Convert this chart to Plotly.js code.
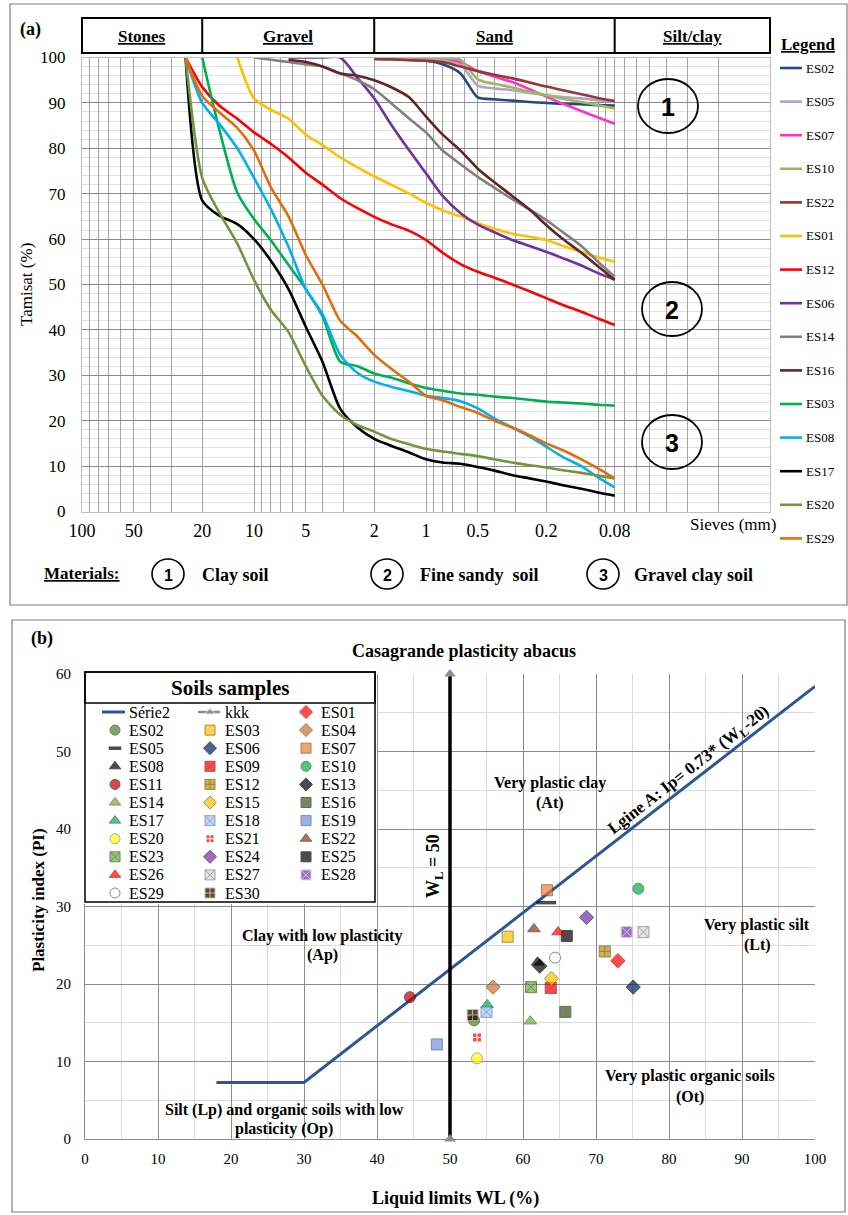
<!DOCTYPE html>
<html>
<head>
<meta charset="utf-8">
<script src="https://cdn.plot.ly/plotly-3.0.1.min.js"></script>
<style>html,body{margin:0;padding:0;background:#fff;}#chart{width:848px;height:1215px;}</style>
</head>
<body>
<div id="chart"></div>
<script>
// ================= Panel (a): grain size distribution =================
const _ = null;
const sieveSizes = [25,20,16,12.5,10,8,6.3,5,4,3.15,2.5,2,1.6,1.25,1,0.8,0.63,0.5,0.4,0.315,0.25,0.2,0.16,0.125,0.1,0.08];
const ES02 = [_,_,_,_,_,_,_,_,_,_,_,99.7,99.6,99.5,99.3,98.5,96.5,91.2,90.8,90.5,90.2,90.0,89.8,89.7,89.5,89.4];
const ES05 = [_,_,_,_,_,_,_,_,_,_,_,99.8,99.7,99.6,99.5,99.2,98.5,93.8,93.2,92.8,92.2,91.7,91.3,91.0,90.6,90.3];
const ES07 = [_,_,_,_,_,_,_,_,_,_,_,100,100,100,100,99.8,99.0,97.0,95.8,94.6,93.0,91.4,89.8,88.2,86.8,85.4];
const ES10 = [_,_,_,_,_,_,_,_,_,_,_,100,100,100,100,99.8,99.5,95.2,94.2,93.4,92.5,91.7,90.9,90.2,89.5,88.8];
const ES22 = [_,_,_,_,_,_,_,_,_,_,_,99.7,99.6,99.4,99.3,99.0,98.0,97.0,96.2,95.4,94.5,93.6,92.8,91.9,91.1,90.4];
const ES01 = [_,_,_,100,91,88.5,86.5,83,80.7,78,75.8,73.8,72,70,68,66.3,65,63.5,62.3,61.2,60.5,59.8,58.5,57.2,56,55];
const ES12 = [100,93.5,89.5,86.5,83.5,81,78,74.6,72,69,66.8,64.9,63.3,61.8,59.8,57,54.5,52.8,51.5,50,48.5,47,45.5,44,42.5,41.1];
const ES06 = [_,_,_,_,_,_,100,100,100,100,95.5,91,85.3,79.5,74.5,69.5,65.7,63.2,61.5,59.8,58.5,57.2,55.8,54.2,52.5,51.1];
const ES14 = [_,_,_,_,100,99.5,99,98.5,98,96.5,95,93,90,86.5,83.5,79.5,76.5,73.7,71.3,68.8,66.5,64.2,61.5,58.5,55,51.7];
const ES16 = [_,_,_,_,_,_,99.5,99,98,96.5,96,95,93.5,91.2,87,83,79.5,75.5,72.5,69.5,66.5,63.1,60,57,54,51];
const ES03 = [_,100,84.5,70.2,64.4,59.8,54.3,49,43,33,32,30.4,29.5,28.2,27.2,26.6,26,25.7,25.3,25,24.6,24.2,24,23.8,23.5,23.3];
const ES08 = [100,90,85.5,80,73.5,66.7,58.3,49,43.5,34.5,30.5,28.6,27.5,26.5,25.5,25,24.3,22.7,20.5,18.5,16.5,14.3,12,10,7.5,5.3];
const ES17 = [100,68.5,65.2,63.3,60,55.3,49,40.7,33,22.6,18.5,16,14.5,13,11.5,10.8,10.5,9.8,9,8,7.3,6.6,5.8,5,4.2,3.5];
const ES20 = [100,73.5,66,59,51,44.5,39.5,32,25.5,21.3,19,17.6,16,14.8,13.8,13.2,12.7,12.2,11.5,10.8,10.2,9.7,9.1,8.5,7.9,7.3];
const ES29 = [100,91.5,88,84.5,79.5,71.5,65,56.5,50,42,38.5,34.5,31.5,28.5,25.5,24.5,23,21.7,20,18.5,16.8,15,13.5,11.5,9.5,7.3];
const gsNames = ['ES02','ES05','ES07','ES10','ES22','ES01','ES12','ES06','ES14','ES16','ES03','ES08','ES17','ES20','ES29'];
const gsValues = [ES02,ES05,ES07,ES10,ES22,ES01,ES12,ES06,ES14,ES16,ES03,ES08,ES17,ES20,ES29];
const sieveTickVals = [100,50,20,10,5,2,1,0.5,0.2,0.08];
const sieveTickText = ['100','50','20','10','5','2','1','0.5','0.2','0.08'];
const fractionNames = ['Stones','Gravel','Sand','Silt/clay'];
const fractionBounds = [100,20,2,0.08,0.01];
const materialNames = ['Clay soil','Fine sandy\u00a0 soil','Gravel clay soil'];

// ================= Panel (b): Casagrande chart =================
const samples = ['ES01','ES02','ES03','ES04','ES05','ES06','ES07','ES08','ES09','ES10','ES11','ES12','ES13','ES14','ES15','ES16','ES17','ES18','ES19','ES20','ES21','ES22','ES23','ES24','ES25','ES26','ES27','ES28','ES29','ES30'];
const liquidLimit = [73,53.3,57.9,55.9,63.2,75.1,63.3,62,63.8,75.8,44.5,71.2,62.3,61,63.9,65.8,55.1,55,48.2,53.7,53.7,61.5,61.1,68.7,66,64.8,76.5,74.2,64.4,53.1];
const plasticityIndex = [23,15.3,26.1,19.6,30.5,19.6,32.1,22.8,19.5,32.3,18.3,24.2,22.3,15.2,20.7,16.4,17.3,16.4,12.2,10.4,13.1,27.1,19.6,28.6,26.2,26.7,26.7,26.7,23.4,16];
const lineA_WL = [18,30,100];
const lineA_PI = [7.3,7.3,58.4];
const wl50_WL = [50,50];
const wl50_PI = [0,60];

// ================= Styles =================
const W = 848, H = 1215;
const SERIF = 'Liberation Serif, Times New Roman, serif';
const SANS = 'Liberation Sans, Arial, sans-serif';
const gsColor = {ES02:'#244a80',ES05:'#b3a2c7',ES07:'#ff33cc',ES10:'#9bbb59',ES22:'#953735',ES01:'#ffc000',ES12:'#ff0000',ES06:'#7030a0',ES14:'#808080',ES16:'#632523',ES03:'#00b050',ES08:'#00b0f0',ES17:'#000000',ES20:'#77933c',ES29:'#e46c0a'};
const sampleStyle = {
 ES01:{s:'diamond',c:'#ff0000',l:'#b00000'}, ES02:{s:'circle',c:'#4f7f2f',l:'#2e4a1c'},
 ES03:{s:'square',c:'#ffc000',l:'#7f6000'}, ES04:{s:'diamond',c:'#c8733a',l:'#7a3e14'},
 ES05:{s:'line-ew',c:'#000000',l:'#000000',w:3.5,z:14,lz:9}, ES06:{s:'diamond',c:'#002060',l:'#000000'},
 ES07:{s:'square',c:'#ed7d31',l:'#8a4a1c'}, ES08:{s:'triangle-up',c:'#000000',l:'#000000'},
 ES09:{s:'square-x',c:'#ff0000',l:'#a00000'}, ES10:{s:'circle',c:'#00b050',l:'#1e5f30'},
 ES11:{s:'circle',c:'#c00000',l:'#5a0000'}, ES12:{s:'square-cross',c:'#bf9000',l:'#6b5000'},
 ES13:{s:'diamond',c:'#000000',l:'#000000'}, ES14:{s:'triangle-up',c:'#70ad47',l:'#3d6b26'},
 ES15:{s:'diamond',c:'#ffc000',l:'#8a6a00'}, ES16:{s:'square',c:'#375623',l:'#1e3013'},
 ES17:{s:'triangle-up',c:'#00b050',l:'#1e5f30'}, ES18:{s:'square-x',c:'#a9c4eb',l:'#5b7fb5'},
 ES19:{s:'square',c:'#7094d4',l:'#3a5a9a'}, ES20:{s:'circle',c:'#ffff00',l:'#7f7f7f'},
 ES21:{s:'square-cross',c:'#ff0000',l:'#ffffff',z:9}, ES22:{s:'triangle-up',c:'#843c0c',l:'#4a2006'},
 ES23:{s:'square-x',c:'#70ad47',l:'#2e5a1a'}, ES24:{s:'diamond',c:'#7030a0',l:'#3d1a58'},
 ES25:{s:'square',c:'#000000',l:'#000000'}, ES26:{s:'triangle-up',c:'#ff0000',l:'#c00000'},
 ES27:{s:'square-x',c:'#d9d9d9',l:'#7f7f7f'}, ES28:{s:'square-x',c:'#7030a0',l:'#c9b3e0'},
 ES29:{s:'circle',c:'#ffffff',l:'#595959'}, ES30:{s:'square-cross',c:'#000000',l:'#c9a26a'}
};

// ================= Helpers =================
const px = x => x / W;
const py = y => 1 - y / H;
const A = {l:82, r:770, t:57.5, b:511.5};
const B = {l:85, r:815, t:674, b:1139};
const LG = {l:83, r:377, t:670, b:904};
const xa = d => A.l + (A.r - A.l) * (2 - Math.log10(d)) / 4;

function ann(text, x, y, font, opt) {
  return Object.assign({text:text, x:px(x), y:py(y), xref:'paper', yref:'paper', showarrow:false,
    xanchor:'center', yanchor:'middle', font:Object.assign({family:SERIF, size:16, color:'#000'}, font||{})}, opt||{});
}
function rect(x0,y0,x1,y1,line,extra){
  return Object.assign({type:'rect', xref:'paper', yref:'paper', x0:px(x0), x1:px(x1), y0:py(y0), y1:py(y1),
    line:line||{color:'#000',width:1}, fillcolor:'rgba(0,0,0,0)', layer:'above'}, extra||{});
}
function seg(x0,y0,x1,y1,line){
  return {type:'line', xref:'paper', yref:'paper', x0:px(x0), x1:px(x1), y0:py(y0), y1:py(y1), line:line, layer:'above'};
}
function ellipse(cx,cy,rx,ry,w){
  return {type:'circle', xref:'paper', yref:'paper', x0:px(cx-rx), x1:px(cx+rx), y0:py(cy+ry), y1:py(cy-ry),
    line:{color:'#000',width:w||1.6}, fillcolor:'rgba(0,0,0,0)', layer:'above'};
}

const traces = [];
const shapes = [];
const annotations = [];

// ---------- Panel (a) traces ----------
gsNames.forEach((n,i) => {
  traces.push({type:'scatter', mode:'lines', x:sieveSizes, y:gsValues[i], xaxis:'x', yaxis:'y', name:n,
    line:{color:gsColor[n], width:2.6, shape:'spline', smoothing:0.7}, connectgaps:false, hoverinfo:'skip'});
});
const gridVals = [100];
[10,1,0.1,0.01].forEach(dec => { for (let m=9; m>=1; m--) gridVals.push(Number((m*dec).toPrecision(6))); });
const gridText = gridVals.map(v => { const k = sieveTickVals.findIndex(t => Math.abs(t-v) < 1e-9); return k >= 0 ? sieveTickText[k] : ' '; });

// ---------- Panel (b) traces ----------
traces.push({type:'scatter', mode:'lines', x:lineA_WL, y:lineA_PI, xaxis:'x2', yaxis:'y2', name:'Série2',
  line:{color:'#2f5597', width:3}, hoverinfo:'skip'});
traces.push({type:'scatter', mode:'lines+markers', x:wl50_WL, y:wl50_PI, xaxis:'x2', yaxis:'y2', name:'kkk',
  line:{color:'#000', width:3.5}, marker:{symbol:'triangle-up', color:'#8c8c8c', size:10}, cliponaxis:false, hoverinfo:'skip'});
traces.push({type:'scatter', mode:'markers', x:liquidLimit, y:plasticityIndex, xaxis:'x2', yaxis:'y2', text:samples,
  marker:{symbol:samples.map(s=>sampleStyle[s].s), color:samples.map(s=>sampleStyle[s].c),
    size:samples.map(s=>sampleStyle[s].z||11),
    line:{color:samples.map(s=>sampleStyle[s].l), width:samples.map(s=>sampleStyle[s].w||1)}},
  cliponaxis:false, hoverinfo:'text'});

// ---------- Legend (b) in its own subplot (layout coordinates) ----------
traces.push({type:'scatter', mode:'none', x:[LG.l,LG.r,LG.r,LG.l], y:[LG.t,LG.t,LG.b,LG.b], fill:'toself',
  fillcolor:'#ffffff', xaxis:'x3', yaxis:'y3', hoverinfo:'skip'});
const legItems = ['Série2','kkk'].concat(samples);
const colSym = [115,210,306], colTxt = [127,223,319];
const rowY = r => 712 + r*18.1;
const legMarkers = {x:[], y:[], s:[], c:[], l:[], w:[], z:[]};
legItems.forEach((name,i) => {
  const r = Math.floor(i/3), c = i%3;
  annotations.push({text:name, x:colTxt[c], y:rowY(r), xref:'x3', yref:'y3', showarrow:false, xanchor:'left', yanchor:'middle',
    font:{family:SERIF, size:16, color:'#000'}});
  if (sampleStyle[name]) {
    const st = sampleStyle[name];
    legMarkers.x.push(colSym[c]); legMarkers.y.push(rowY(r));
    legMarkers.s.push(st.s); legMarkers.c.push(st.c); legMarkers.l.push(st.l);
    legMarkers.w.push(st.w||1); legMarkers.z.push(st.lz||((st.z||11)-1));
  }
});
traces.push({type:'scatter', mode:'lines', x:[colSym[0]-13, colSym[0]+10], y:[rowY(0),rowY(0)], xaxis:'x3', yaxis:'y3',
  line:{color:'#2f5597', width:3}, hoverinfo:'skip'});
traces.push({type:'scatter', mode:'lines+markers', x:[colSym[1]-12, colSym[1], colSym[1]+10], y:[rowY(0),rowY(0),rowY(0)], xaxis:'x3', yaxis:'y3',
  line:{color:'#8c8c8c', width:2.5}, marker:{symbol:['circle','triangle-up','circle'], size:[0,9,0], color:'#8c8c8c'}, hoverinfo:'skip'});
traces.push({type:'scatter', mode:'markers', x:legMarkers.x, y:legMarkers.y, xaxis:'x3', yaxis:'y3',
  marker:{symbol:legMarkers.s, color:legMarkers.c, size:legMarkers.z, line:{color:legMarkers.l, width:legMarkers.w}}, hoverinfo:'skip'});

// ---------- Shapes & annotations: panel (a) ----------
shapes.push(rect(10,4,847,605,{color:'#7f7f7f',width:1.2}));
shapes.push(rect(12,620,845,1212,{color:'#7f7f7f',width:1.2}));
shapes.push(rect(xa(fractionBounds[0]),18,xa(fractionBounds[4]),53,{color:'#000',width:2}));
for (let k=1;k<4;k++) shapes.push(seg(xa(fractionBounds[k]),18,xa(fractionBounds[k]),53,{color:'#000',width:2}));
fractionNames.forEach((n,k) => {
  const cx = (xa(fractionBounds[k]) + xa(fractionBounds[k+1]))/2;
  annotations.push(ann('<b>'+n+'</b>', cx, 37, {size:17, lineposition:'under'}));
});
annotations.push(ann('<b>(a)</b>', 30, 29, {size:18}));
annotations.push(ann('Tamisat (%)', 27, 285, {size:17}, {textangle:-90}));
annotations.push(ann('Sieves (mm)', 733, 524, {size:17}));
annotations.push(ann('<b>Legend</b>', 808, 45, {size:17, lineposition:'under'}));
gsNames.forEach((n,i) => {
  const y = 68 + i*33.6;
  shapes.push(seg(780,y,802,y,{color:gsColor[n],width:2.6}));
  annotations.push(ann(n, 804, y, {size:13}, {xanchor:'left'}));
});
[[668,106,'1'],[672,309,'2'],[672,442,'3']].forEach(c => {
  shapes.push(ellipse(c[0],c[1],30,27,1.8));
  annotations.push(ann('<b>'+c[2]+'</b>', c[0], c[1]+1, {family:SANS, size:25}));
});
annotations.push(ann('<b>Materials:</b>', 82, 573, {size:17, lineposition:'under'}));
[[168,200],[387,418],[603,632]].forEach((p,k) => {
  shapes.push(ellipse(p[0],574,16,15,1.6));
  annotations.push(ann('<b>'+(k+1)+'</b>', p[0], 575, {family:SANS, size:16}));
  annotations.push(ann('<b>'+materialNames[k]+'</b>', p[1], 575, {size:18}, {xanchor:'left'}));
});

// ---------- Shapes & annotations: panel (b) ----------
annotations.push(ann('<b>(b)</b>', 42, 638, {size:18}));
annotations.push(ann('<b>Casagrande plasticity abacus</b>', 464, 651, {size:18}));
annotations.push(ann('<b>Plasticity index (PI)</b>', 38, 900, {size:17}, {textangle:-90}));
annotations.push(ann('<b>Liquid limits WL (%)</b>', 455, 1198, {size:18}));
annotations.push(ann('<b>Very plastic clay</b>', 550, 783, {size:16}));
annotations.push(ann('<b>(At)</b>', 550, 803, {size:16}));
annotations.push(ann('<b>Clay with low plasticity</b>', 322, 936, {size:16}));
annotations.push(ann('<b>(Ap)</b>', 322, 955, {size:16}));
annotations.push(ann('<b>Very plastic silt</b>', 757, 925, {size:16}));
annotations.push(ann('<b>(Lt)</b>', 757, 945, {size:16}));
annotations.push(ann('<b>Very plastic organic soils</b>', 690, 1076, {size:16}));
annotations.push(ann('<b>(Ot)</b>', 690, 1097, {size:16}));
annotations.push(ann('<b>Silt (Lp) and organic soils with low</b>', 284, 1110, {size:16}));
annotations.push(ann('<b>plasticity (Op)</b>', 284, 1129, {size:16}));
annotations.push(ann('<b>W<sub>L</sub> = 50</b>', 434, 866, {size:18}, {textangle:-90}));
annotations.push(ann('<b>Lgine A: Ip= 0.73* (W<sub>L</sub>-20)</b>', 689, 771, {size:17}, {textangle:-37.8}));
shapes.push(rect(85,672,375,902,{color:'#000',width:1.5}));
shapes.push(rect(85,672,375,703,{color:'#000',width:1.5}));
annotations.push(ann('<b>Soils samples</b>', 230, 688, {size:21}));

const layout = {
  width:W, height:H, margin:{l:0,r:0,t:0,b:0}, paper_bgcolor:'#fff', plot_bgcolor:'#fff', showlegend:false,
  font:{family:SERIF, color:'#000'},
  xaxis:{type:'log', domain:[px(A.l),px(A.r)], range:[2,-2], tickmode:'array', tickvals:gridVals, ticktext:gridText, tickangle:0,
    showgrid:true, gridcolor:'#a3a3a3', gridwidth:1, ticks:'outside', ticklen:3, tickcolor:'rgba(0,0,0,0)',
    tickfont:{family:SERIF,size:18,color:'#000'}, showline:true, linecolor:'#bfbfbf', mirror:true, zeroline:false, anchor:'y', fixedrange:true},
  yaxis:{domain:[py(A.b),py(A.t)], range:[0,100], tickmode:'linear', tick0:0, dtick:10, gridcolor:'#8c8c8c',
    minor:{dtick:2, showgrid:true, gridcolor:'#e0e0e0'}, ticks:'outside', ticklen:12, tickcolor:'rgba(0,0,0,0)',
    tickfont:{family:SERIF,size:17,color:'#000'}, showline:true, linecolor:'#bfbfbf', mirror:true, zeroline:false, anchor:'x', fixedrange:true},
  xaxis2:{domain:[px(B.l),px(B.r)], range:[0,100], tickmode:'linear', tick0:0, dtick:10, gridcolor:'#8c8c8c',
    minor:{dtick:5, showgrid:true, gridcolor:'#dadada'}, ticks:'outside', ticklen:6, tickcolor:'rgba(0,0,0,0)',
    tickfont:{family:SERIF,size:15,color:'#000'}, showline:true, linecolor:'#8c8c8c', zeroline:false, anchor:'y2', fixedrange:true},
  yaxis2:{domain:[py(B.b),py(B.t)], range:[0,60], tickmode:'linear', tick0:0, dtick:10, gridcolor:'#8c8c8c',
    minor:{dtick:5, showgrid:true, gridcolor:'#dadada'}, ticks:'outside', ticklen:10, tickcolor:'rgba(0,0,0,0)',
    tickfont:{family:SERIF,size:15,color:'#000'}, showline:true, linecolor:'#8c8c8c', zeroline:false, anchor:'x2', fixedrange:true},
  xaxis3:{domain:[px(LG.l),px(LG.r)], range:[LG.l,LG.r], visible:false, anchor:'y3', fixedrange:true},
  yaxis3:{domain:[py(LG.b),py(LG.t)], range:[LG.b,LG.t], visible:false, anchor:'x3', fixedrange:true},
  shapes:shapes, annotations:annotations
};
Plotly.newPlot('chart', traces, layout, {staticPlot:true, displayModeBar:false});
</script>
</body>
</html>
